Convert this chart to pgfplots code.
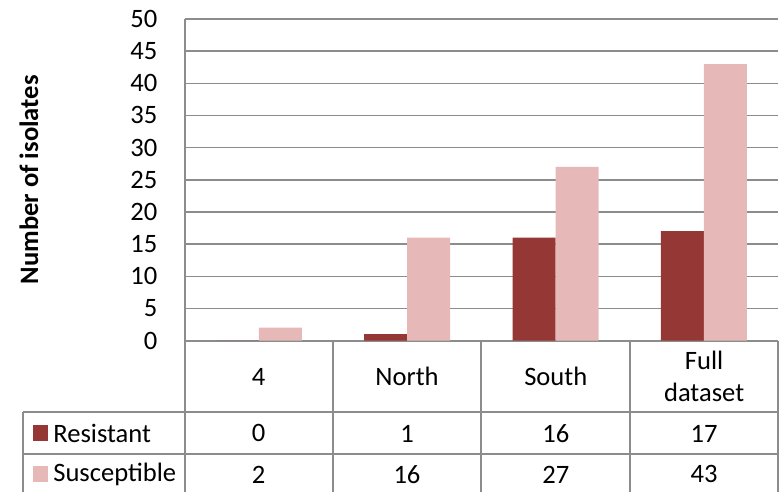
\documentclass[border=0pt]{standalone}
\usepackage{pgfplots}
\pgfplotsset{compat=1.18}
\usepackage{pgfplotstable}
\usepackage{fontspec}
\setmainfont{Carlito}

\definecolor{resclr}{HTML}{953735}
\definecolor{susclr}{HTML}{E6B9B8}
\definecolor{rulegray}{HTML}{8C8C8C}

% isolate counts per group: resistant and susceptible
\pgfplotstableread{
idx res sus
0   0   2
1   1   16
2   16  27
3   17  43
}\isolates

\newcommand{\chartfont}{\fontsize{13.3}{16}\selectfont}

\begin{document}
\chartfont
\begin{tikzpicture}
% canvas in pixel-like units, origin at top left
\begin{scope}[x=0.5pt,y=-0.5pt]
  \useasboundingbox (0,0) rectangle (779,493);
\end{scope}

\begin{axis}[
  at={(92.5pt,-170.5pt)}, anchor=south west,
  width=297pt, height=161pt, scale only axis,
  xmin=-0.5, xmax=3.5, ymin=0, ymax=50,
  ytick={0,5,...,50}, xtick=\empty,
  axis x line*=bottom, axis y line*=left,
  axis line style={draw=rulegray, line width=1pt, -},
  ymajorgrids, major grid style={draw=rulegray, line width=0.75pt},
  major tick length=0pt,
  tick label style={font=\chartfont},
  /pgf/number format/assume math mode=true,
  yticklabel style={inner sep=0pt, xshift=-13.5pt},
  ylabel={Number of isolates},
  ylabel style={at={(axis description cs:-0.2626,0.5)}, anchor=center,
    font=\chartfont\bfseries},
  clip=false,
]
\addplot[ybar, fill=resclr, draw=none, bar width=0.29, bar shift=-0.145]
  table[x=idx, y=res]{\isolates};
\addplot[ybar, fill=susclr, draw=none, bar width=0.29, bar shift=0.145]
  table[x=idx, y=sus]{\isolates};
\end{axis}

% data table below the plot
\begin{scope}[x=0.5pt,y=-0.5pt]
  \begin{scope}[draw=rulegray, line width=1pt]
    \draw (185,341) -- (185,493);
    \foreach \xx in {333,482,631,778.5} \draw (\xx,341) -- (\xx,493);
    \draw (23,413) -- (23,493);
    \draw (23,413) -- (779,413);
    \draw (23,455) -- (779,455);
  \end{scope}
  % category names
  \node[align=center] at (259,377) {4};
  \node[align=center] at (407.5,377) {North};
  \node[align=center] at (556.5,377) {South};
  \node[align=center] at (705,377) {Full\\dataset};
  % series keys
  \fill[resclr] (33,426) rectangle (48,442);
  \fill[susclr] (33,467) rectangle (48,483);
  \node[anchor=west, inner sep=0pt] at (53,434) {Resistant};
  \node[anchor=west, inner sep=0pt] at (53,475) {Susceptible};
  % values
  \foreach \i/\cx in {0/259,1/407.5,2/556.5,3/705}{
    \pgfplotstablegetelem{\i}{res}\of\isolates
    \node at (\cx,434) {\pgfplotsretval};
    \pgfplotstablegetelem{\i}{sus}\of\isolates
    \node at (\cx,475) {\pgfplotsretval};
  }
\end{scope}
\end{tikzpicture}
\end{document}
